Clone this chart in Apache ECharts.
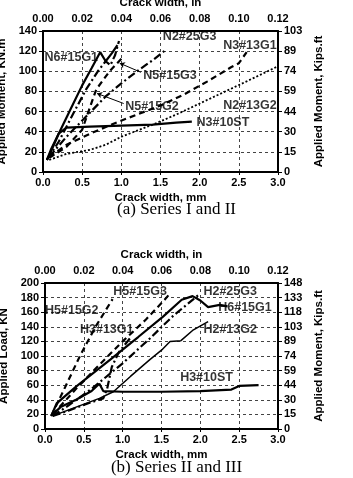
<!DOCTYPE html>
<html>
<head>
<meta charset="utf-8">
<script src="https://cdn.jsdelivr.net/npm/echarts@6/dist/echarts.min.js"></script>
<style>
  html, body { margin: 0; padding: 0; background: #fff; }
  #main { width: 353px; height: 478px; }
</style>
</head>
<body>
<div id="main"></div>
<script>
// tick labels
const mmTicksMax = 3;
const inTicksMax = 0.12;
const kipsA = [0, 15, 30, 44, 59, 74, 89, 103];
const kipsB = [0, 15, 30, 44, 59, 74, 89, 103, 118, 133, 148];

// (a) Series I and II : [crack width mm, moment KN.m]
const N6_15G1 = [[0.05,12],[0.1,20],[0.2,38],[0.35,62],[0.5,86],[0.62,103],[0.73,119],[0.8,110],[0.88,118],[0.95,126]];
const N5_15G3 = [[0.05,12],[0.2,30],[0.4,60],[0.55,82],[0.7,100],[0.8,110],[0.86,106],[0.92,116],[0.97,130]];
const N5_15G2 = [[0.08,14],[0.3,25],[0.5,42],[0.58,60],[0.68,82],[0.85,100],[1.02,114]];
const N2_25G3 = [[0.08,15],[0.3,35],[0.55,55],[0.8,75],[1.0,88],[1.2,100],[1.4,111],[1.58,122]];
const N3_13G1 = [[0.08,15],[0.3,27],[0.6,38],[0.9,48],[1.2,57],[1.5,66],[1.8,77],[2.1,90],[2.4,104],[2.5,108],[2.6,119]];
const N2_13G2 = [[0.08,12],[0.3,18],[0.6,22],[0.8,27],[1.0,35],[1.2,41],[1.4,47],[1.7,57],[2.0,68],[2.3,79],[2.6,90],[3.0,105]];
const N3_10ST = [[0.05,12],[0.1,22],[0.2,38],[0.3,44],[0.6,45],[1.0,46],[1.4,47],[1.7,49],[1.9,50]];

// (b) Series II and III : [crack width mm, load KN]
const H6_15G1 = [[0.08,18],[0.15,35],[0.4,58],[0.84,95],[1.2,126],[1.52,154],[1.76,177],[1.9,182],[2.0,176],[2.1,167],[2.25,170],[2.35,168]];
const H2_25G3 = [[0.1,18],[0.3,32],[0.6,55],[1.0,90],[1.35,124],[1.65,155],[1.97,183]];
const H5_15G3 = [[0.1,20],[0.4,55],[0.7,88],[1.0,120],[1.3,150],[1.54,177],[1.62,187]];
const H5_15G2 = [[0.08,18],[0.24,53],[0.45,100],[0.65,140],[0.87,178]];
const H3_13G1 = [[0.1,18],[0.3,25],[0.55,35],[0.75,42],[0.8,55],[0.86,85],[0.95,105],[1.1,125]];
const H2_13G2 = [[0.1,18],[0.4,30],[0.7,42],[0.88,51],[1.1,72],[1.35,95],[1.5,108],[1.61,120],[1.75,121],[1.9,135],[2.1,147]];
const H3_10ST = [[0.08,18],[0.2,30],[0.4,40],[0.6,52],[0.7,62],[0.75,52],[1.0,51],[1.5,51],[2.0,52],[2.4,54],[2.5,59],[2.75,60]];

// curve labels: [text, mm, value]
const labelsA = [['N6#15G1',0.02,114],['N2#25G3',1.53,134],['N3#13G1',2.3,126],['N5#15G3',1.28,96],
  ['N5#15G2',1.05,65],['N2#13G2',2.3,66],['N3#10ST',1.96,49]];
const labelsB = [['H5#15G3',0.88,188],['H2#25G3',2.04,188],['H5#15G2',0.0,162],['H6#15G1',2.23,166],
  ['H3#13G1',0.45,136],['H2#13G2',2.04,136],['H3#10ST',1.74,70]];
// leader arrows: [from, to]
const arrowsA = [[[1.25,99],[0.98,108]],[[1.03,68],[0.69,78]]];

const FONT = 'Liberation Sans';
const SOLID = 'solid', DASH = [6, 4], DASHDOT = [8, 3, 2, 3], DOT = [2, 2];

let chart = echarts.init(document.getElementById('main'), null, { renderer: 'canvas' });

function curve(name, data, type, idx, width) {
  return {
    name: name,
    type: 'line',
    xAxisIndex: idx * 2,
    yAxisIndex: idx * 2,
    data: data,
    symbol: 'none',
    animation: false,
    silent: true,
    lineStyle: { color: '#000', width: width || 2.2, type: type }
  };
}

function labels(list, idx) {
  return {
    type: 'scatter',
    xAxisIndex: idx * 2,
    yAxisIndex: idx * 2,
    symbolSize: 0,
    animation: false,
    silent: true,
    data: list.map(l => ({ name: l[0], value: [l[1], l[2]] })),
    label: {
      show: true,
      position: 'right',
      distance: 0,
      formatter: p => p.name,
      color: '#000',
      fontFamily: FONT,
      fontWeight: 'bold',
      fontSize: 12.5
    }
  };
}

const gridLine = { show: true, lineStyle: { color: '#444', width: 1, type: [3, 3] } };
const frame = { show: true, onZero: false, lineStyle: { color: '#000', width: 2 } };
const tickLabel = { color: '#000', fontFamily: FONT, fontWeight: 'bold', fontSize: 11 };
const nameStyle = { color: '#000', fontFamily: FONT, fontWeight: 'bold', fontSize: 11.5 };

function xAxes(g) {
  return [{
    type: 'value', gridIndex: g, position: 'bottom', min: 0, max: mmTicksMax, interval: 0.5,
    axisLine: frame, axisTick: { show: true, length: 3, lineStyle: { color: '#000' } },
    splitLine: gridLine,
    axisLabel: Object.assign({ formatter: v => v.toFixed(1), margin: 5 }, tickLabel),
    name: 'Crack width, mm', nameLocation: 'middle', nameGap: 20, nameTextStyle: nameStyle
  }, {
    type: 'value', gridIndex: g, position: 'top', min: 0, max: inTicksMax, interval: 0.02,
    axisLine: frame, axisTick: { show: false },
    splitLine: { show: false },
    axisLabel: Object.assign({ formatter: v => v.toFixed(2), margin: 7 }, tickLabel),
    name: 'Crack width, in', nameLocation: 'middle', nameGap: 22, nameTextStyle: nameStyle
  }];
}

function yAxes(g, max, kips, leftName) {
  return [{
    type: 'value', gridIndex: g, position: 'left', min: 0, max: max, interval: 20,
    axisLine: frame, axisTick: { show: true, length: 4, lineStyle: { color: '#000' } },
    splitLine: gridLine,
    axisLabel: Object.assign({ margin: 6 }, tickLabel),
    name: leftName, nameLocation: 'middle', nameGap: 28, nameTextStyle: nameStyle
  }, {
    type: 'value', gridIndex: g, position: 'right', min: 0, max: max, interval: 20,
    axisLine: frame, axisTick: { show: true, length: 4, lineStyle: { color: '#000' } },
    splitLine: { show: false },
    axisLabel: Object.assign({ margin: 6, formatter: v => String(kips[Math.round(v / 20)]) }, tickLabel),
    name: 'Applied Moment, Kips.ft', nameLocation: 'middle', nameGap: 33, nameTextStyle: nameStyle
  }];
}

let arrowSeries = {
  type: 'line', xAxisIndex: 0, yAxisIndex: 0, data: [], animation: false, silent: true,
  markLine: {
    silent: true, animation: false,
    symbol: ['none', 'arrow'], symbolSize: 5,
    label: { show: false },
    lineStyle: { color: '#000', width: 1, type: 'solid' },
    data: arrowsA.map(a => [{ coord: a[0] }, { coord: a[1] }])
  }
};

let option = {
  backgroundColor: '#fff',
  animation: false,
  grid: [
    { left: 43, top: 31, width: 235, height: 141, outerBoundsMode: 'none' },
    { left: 45, top: 283, width: 233, height: 146, outerBoundsMode: 'none' }
  ],
  xAxis: xAxes(0).concat(xAxes(1)),
  yAxis: yAxes(0, 140, kipsA, 'Applied Moment, KN.m').concat(yAxes(1, 200, kipsB, 'Applied Load, KN')),
  graphic: [{
    type: 'text', left: 'center', top: 201,
    style: { text: '(a) Series I and II', font: '17px "Liberation Serif"', fill: '#000' }
  }, {
    type: 'text', left: 'center', top: 459,
    style: { text: '(b) Series II and III', font: '17px "Liberation Serif"', fill: '#000' }
  }],
  series: [
    curve('N6#15G1', N6_15G1, SOLID, 0),
    curve('N5#15G3', N5_15G3, DASHDOT, 0),
    curve('N5#15G2', N5_15G2, DASH, 0),
    curve('N2#25G3', N2_25G3, DASHDOT, 0),
    curve('N3#13G1', N3_13G1, DASH, 0),
    curve('N2#13G2', N2_13G2, DOT, 0, 1.8),
    curve('N3#10ST', N3_10ST, SOLID, 0),
    curve('H6#15G1', H6_15G1, SOLID, 1),
    curve('H2#25G3', H2_25G3, DASHDOT, 1),
    curve('H5#15G3', H5_15G3, DASH, 1),
    curve('H5#15G2', H5_15G2, DASH, 1),
    curve('H3#13G1', H3_13G1, DASHDOT, 1),
    curve('H2#13G2', H2_13G2, SOLID, 1, 1.5),
    curve('H3#10ST', H3_10ST, SOLID, 1),
    labels(labelsA, 0),
    labels(labelsB, 1),
    arrowSeries
  ]
};

chart.setOption(option);
</script>
</body>
</html>
